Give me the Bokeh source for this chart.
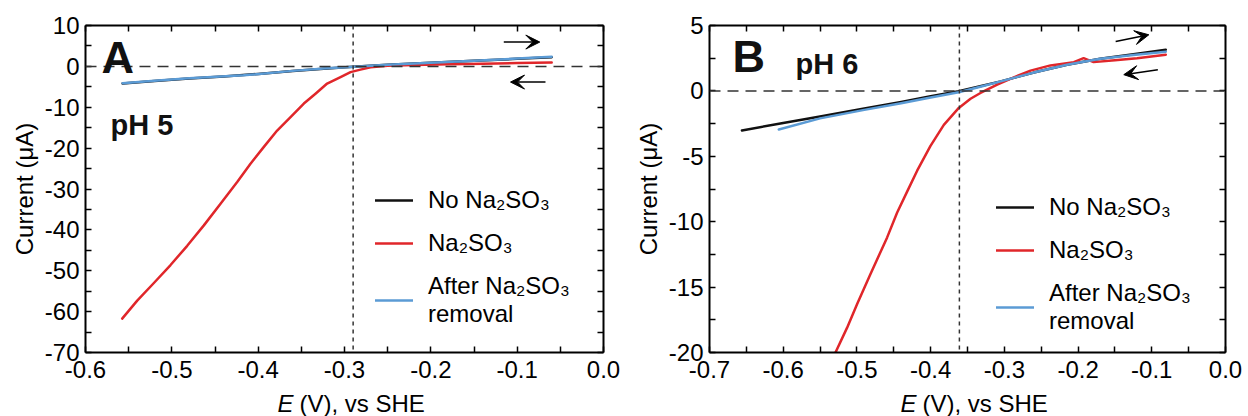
import math
from bokeh.plotting import figure
from bokeh.layouts import row, column
from bokeh.core.properties import value
from bokeh.models import (Range1d, LinearAxis, FixedTicker, NumeralTickFormatter,
                          Span, Label, Legend, LegendItem, Arrow, VeeHead)
from bokeh.embed import file_html
from bokeh.resources import INLINE

# ---------------- data: panel A (pH 5) ----------------
a_black_E = [-0.557, -0.52, -0.48, -0.44, -0.40, -0.36, -0.32, -0.29, -0.25, -0.20, -0.15, -0.10, -0.06]
a_black_I = [-4.2, -3.55, -2.95, -2.45, -1.85, -1.15, -0.5, -0.12, 0.38, 0.88, 1.38, 1.85, 2.25]
a_red_E = [-0.5575, -0.5401, -0.5208, -0.5015, -0.4822, -0.4629, -0.4436, -0.4243, -0.4089,
           -0.3934, -0.378, -0.3625, -0.3471, -0.3336, -0.3201, -0.3046, -0.293, -0.2815,
           -0.2699, -0.25, -0.22, -0.18, -0.14, -0.10, -0.06]
a_red_I = [-61.7, -57.3, -53.0, -48.6, -43.9, -38.9, -33.6, -28.3, -23.8,
           -19.7, -15.7, -12.4, -9.1, -6.7, -4.2, -2.6, -1.4, -0.8,
           -0.2, 0.15, 0.35, 0.5, 0.65, 0.8, 0.95]
a_blue_E = [-0.557, -0.52, -0.48, -0.417, -0.36, -0.32, -0.289, -0.25, -0.20, -0.15, -0.10, -0.06]
a_blue_I = [-4.1, -3.5, -2.9, -2.2, -1.1, -0.45, -0.1, 0.4, 0.9, 1.4, 1.9, 2.35]
a_vline = -0.29
a_arrow_fwd = ([-0.1155, -0.0738], [5.95, 5.95])
a_arrow_back = ([-0.0672, -0.1077], [-3.84, -3.84])
a_xticks = [-0.6, -0.5, -0.4, -0.3, -0.2, -0.1, 0.0]
a_xminor = [-0.55, -0.45, -0.35, -0.25, -0.15, -0.05]
a_yticks = [10, 0, -10, -20, -30, -40, -50, -60, -70]
a_yminor = [5, -5, -15, -25, -35, -45, -55, -65]

# ---------------- data: panel B (pH 6) ----------------
b_black_E = [-0.656, -0.60, -0.55, -0.49, -0.44, -0.40, -0.362, -0.33, -0.305, -0.26, -0.215, -0.17, -0.125, -0.081]
b_black_I = [-3.03, -2.45, -1.95, -1.35, -0.85, -0.41, -0.03, 0.4, 0.73, 1.4, 2.0, 2.46, 2.8, 3.15]
b_red_E = [-0.5291, -0.5133, -0.4997, -0.4816, -0.459, -0.4454, -0.4319, -0.4183, -0.4002,
           -0.3821, -0.3618, -0.3459, -0.3324, -0.3097, -0.2871, -0.2645, -0.2374, -0.2058,
           -0.1925, -0.1789, -0.15, -0.12, -0.081]
b_red_I = [-20.0, -18.1, -16.3, -14.0, -11.2, -9.3, -7.7, -6.1, -4.2,
           -2.6, -1.3, -0.6, -0.16, 0.48, 1.04, 1.55, 1.95, 2.2,
           2.5, 2.2, 2.35, 2.5, 2.77]
b_blue_E = [-0.606, -0.55, -0.49, -0.44, -0.40, -0.362, -0.33, -0.305, -0.26, -0.215, -0.17, -0.125, -0.081]
b_blue_I = [-2.95, -2.1, -1.45, -0.95, -0.5, -0.1, 0.35, 0.73, 1.4, 2.0, 2.45, 2.75, 3.0]
b_vline = -0.361
b_arrow_fwd = ([-0.149, -0.104], [3.78, 4.29])
b_arrow_back = ([-0.0918, -0.138], [1.62, 1.24])
b_xticks = [-0.7, -0.6, -0.5, -0.4, -0.3, -0.2, -0.1, 0.0]
b_xminor = [-0.65, -0.55, -0.45, -0.35, -0.25, -0.15, -0.05]
b_yticks = [5, 0, -5, -10, -15, -20]
b_yminor = [2.5, -2.5, -7.5, -12.5, -17.5]

series_labels = ["No Na\u2082SO\u2083", "Na\u2082SO\u2083", "After Na\u2082SO\u2083\nremoval"]
colors = ["#111111", "#e0262a", "#5b9bd5"]
y_title = "Current (\u03bcA)"
x_title_italic = "E"
x_title_rest = "(V), vs SHE"

FONT = "Liberation Sans"
H_MAIN = 388
H_STRIP = 416 - H_MAIN


def make_panel(letter, ph, xr, yr, ticks, width, borders, data, vline, arrows,
               letter_pos, ph_pos, legend_pos):
    bl, br, bt, bb = borders
    xt, xm, yt, ym = ticks
    p = figure(width=width, height=H_MAIN, output_backend="svg", toolbar_location=None,
               x_range=Range1d(*xr), y_range=Range1d(*yr),
               min_border_left=bl, min_border_right=br, min_border_top=bt, min_border_bottom=bb,
               x_axis_location=None, y_axis_location=None)
    p.xgrid.visible = False
    p.ygrid.visible = False
    p.outline_line_color = None
    p.background_fill_color = "white"
    p.border_fill_color = "white"

    def ax(kind, place, major, minor, labels, title=None):
        a = LinearAxis(ticker=FixedTicker(ticks=major, minor_ticks=minor))
        a.axis_line_width = 2
        a.axis_line_color = "black"
        a.major_tick_in = 6
        a.major_tick_out = 0
        a.minor_tick_in = 6
        a.minor_tick_out = 0
        a.major_tick_line_width = 1.5
        a.minor_tick_line_width = 1.5
        a.major_tick_line_color = "black"
        a.minor_tick_line_color = "black"
        if labels:
            a.major_label_text_font = FONT
            a.major_label_text_font_size = "24px"
            a.major_label_text_color = "black"
            a.major_label_standoff = 8 if kind == "x" else 6
            a.formatter = NumeralTickFormatter(format="0.0" if kind == "x" else "0")
        else:
            a.major_label_text_color = None
            a.major_label_text_font_size = "1px"
            a.major_label_standoff = 0
        if title:
            a.axis_label = title
            a.axis_label_text_font = FONT
            a.axis_label_text_font_size = "24px"
            a.axis_label_text_font_style = "normal"
            a.axis_label_text_color = "black"
            a.axis_label_standoff = 4
        p.add_layout(a, place)

    ax("x", "below", xt, xm, True)
    ax("x", "above", xt, xm, False)
    ax("y", "left", yt, ym, True, y_title)
    ax("y", "right", yt, ym, False)

    p.add_layout(Span(location=0, dimension="width", line_color="#333333", line_width=1.5,
                      line_dash="11 7"))
    p.add_layout(Span(location=vline, dimension="height", line_color="#333333", line_width=1.5,
                      line_dash="4 4"))

    rends = []
    for (E, I), c in zip(data, colors):
        r = p.line(E, I, line_color=c, line_width=2.5, line_join="round", line_cap="round")
        rends.append(r)

    for (xs, ys) in arrows:
        p.add_layout(Arrow(x_start=xs[0], y_start=ys[0], x_end=xs[1], y_end=ys[1],
                           line_color="black", line_width=1.5,
                           end=VeeHead(size=14, fill_color="black", line_color="black")))

    legend = Legend(items=[LegendItem(label=l, renderers=[r]) for l, r in zip(series_labels, rends)],
                    location=legend_pos, orientation="vertical",
                    glyph_width=38, glyph_height=28, label_standoff=15, spacing=15,
                    padding=0, margin=0, border_line_color=None, background_fill_alpha=0,
                    label_text_font=FONT, label_text_font_size="24px", label_text_color="black",
                    label_text_line_height=0.9)
    p.add_layout(legend)

    p.add_layout(Label(x=letter_pos[0], y=letter_pos[1], x_units="screen", y_units="screen",
                       text=letter, text_font=FONT, text_font_style="bold",
                       text_font_size="45px", text_baseline="middle", text_color="#111111"))
    p.add_layout(Label(x=ph_pos[0], y=ph_pos[1], x_units="screen", y_units="screen",
                       text=ph, text_font=FONT, text_font_style="bold",
                       text_font_size="29px", text_baseline="middle", text_color="#111111"))
    return p


def make_strip(width, e_x, rest_x):
    s = figure(width=width, height=H_STRIP, output_backend="svg", toolbar_location=None,
               x_range=Range1d(0, width), y_range=Range1d(0, H_STRIP),
               min_border=0, x_axis_location=None, y_axis_location=None)
    s.xgrid.visible = False
    s.ygrid.visible = False
    s.outline_line_color = None
    s.background_fill_color = "white"
    s.border_fill_color = "white"
    s.text(x=[e_x], y=[13.5], text=[x_title_italic], text_font=value(FONT), text_font_style="italic",
           text_font_size="24px", text_baseline="middle", text_color="black")
    s.text(x=[rest_x], y=[13.5], text=[x_title_rest], text_font=value(FONT),
           text_font_size="24px", text_baseline="middle", text_color="black")
    return s


pA = make_panel("A", "pH 5", (-0.6, 0.0), (-70, 10), (a_xticks, a_xminor, a_yticks, a_yminor),
                620, (85, 17, 25, H_MAIN - 352),
                [(a_black_E, a_black_I), (a_red_E, a_red_I), (a_blue_E, a_blue_I)],
                a_vline, [a_arrow_fwd, a_arrow_back],
                letter_pos=(16, 295), ph_pos=(25, 228), legend_pos=(290, 24))

pB = make_panel("B", "pH 6", (-0.7, 0.0), (-20, 5), (b_xticks, b_xminor, b_yticks, b_yminor),
                628, (89, 23, 24, H_MAIN - 352),
                [(b_black_E, b_black_I), (b_red_E, b_red_I), (b_blue_E, b_blue_I)],
                b_vline, [b_arrow_fwd, b_arrow_back],
                letter_pos=(23, 296), ph_pos=(86, 289), legend_pos=(287, 17))

sA = make_strip(620, 277, 299)
sB = make_strip(628, 280, 302)

layout = column(row(pA, pB), row(sA, sB))
open("out.html", "w").write(file_html(layout, INLINE))
